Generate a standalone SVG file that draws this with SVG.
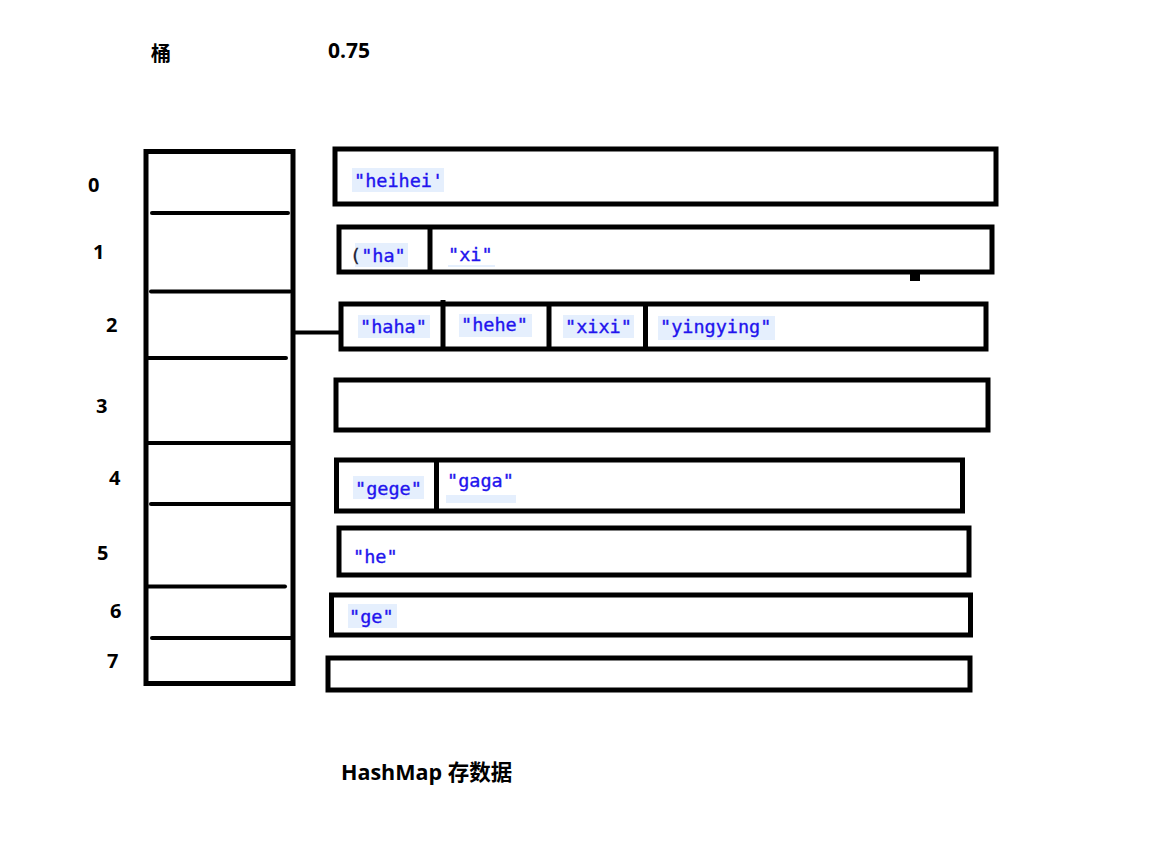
<svg xmlns="http://www.w3.org/2000/svg" width="1174" height="856" viewBox="0 0 1174 856">
<style>
.box{fill:none;stroke:#000;stroke-width:5}
.div{stroke:#000;stroke-width:4}
.sep{stroke:#000;stroke-width:4;stroke-linecap:round}
.lbl{font-family:"Open Sans","Noto Sans CJK SC",sans-serif;font-weight:bold;font-size:20px;fill:#000}
.code{font-family:"DejaVu Sans Mono","Liberation Mono",monospace;font-size:18.5px;fill:#2214ee;stroke:#2214ee;stroke-width:0.35}
.hl{fill:#e5effd}
</style>
<rect width="1174" height="856" fill="#fff"/>
<g id="titles">
<text class="lbl" x="151" y="61">桶</text>
<text class="lbl" x="328" y="58" style="font-size:21px">0.75</text>
<text class="lbl" x="341" y="780" style="font-size:21.5px">HashMap 存数据</text>
</g>
<g id="indices">
<text class="lbl" x="88" y="192">0</text>
<text class="lbl" x="93" y="259">1</text>
<text class="lbl" x="106" y="332">2</text>
<text class="lbl" x="96" y="413">3</text>
<text class="lbl" x="109" y="485">4</text>
<text class="lbl" x="97" y="560">5</text>
<text class="lbl" x="110" y="618">6</text>
<text class="lbl" x="107" y="668">7</text>
</g>
<g id="bucket-array">
<rect class="box" x="146" y="151.5" width="147" height="532"/>
<line class="sep" x1="152" y1="213" x2="288" y2="213"/>
<line class="sep" x1="151" y1="291.5" x2="290" y2="291.5"/>
<line class="sep" x1="148" y1="358" x2="286" y2="358"/>
<line class="div" x1="146" y1="443" x2="293" y2="443"/>
<line class="sep" x1="151" y1="504" x2="292" y2="504"/>
<line class="sep" x1="148" y1="586.5" x2="285" y2="586.5"/>
<line class="sep" x1="152" y1="638" x2="292" y2="638"/>
</g>
<g id="connectors">
<line class="div" x1="293" y1="332.5" x2="343" y2="332.5"/>
</g>
<g id="chain-0">
<rect class="box" x="335" y="149" width="661" height="55"/>
<rect class="hl" x="352" y="168" width="92" height="24"/>
<text class="code" x="354" y="187">"heihei'</text>
</g>
<g id="chain-1">
<rect class="box" x="339" y="227" width="653" height="45"/>
<line class="box" x1="430" y1="227" x2="430" y2="272"/>
<rect class="hl" x="355" y="243" width="53" height="24"/>
<text class="code" x="350" y="262"><tspan fill="#223" stroke="#223">(</tspan>"ha"</text>
<rect class="hl" x="448" y="265" width="47" height="2"/>
<text class="code" x="448" y="261">"xi"</text>
<rect x="910" y="273" width="10" height="8" fill="#000"/>
</g>
<g id="chain-2">
<rect class="box" x="341" y="304" width="645" height="45"/>
<line class="box" x1="443" y1="300" x2="443" y2="347"/>
<line class="box" x1="549" y1="305" x2="549" y2="349"/>
<line class="box" x1="645.5" y1="304" x2="645.5" y2="349"/>
<rect class="hl" x="358" y="315" width="72" height="23"/>
<text class="code" x="360" y="333">"haha"</text>
<rect class="hl" x="459" y="314" width="73" height="23"/>
<text class="code" x="461" y="331">"hehe"</text>
<rect class="hl" x="563" y="315" width="71" height="23"/>
<text class="code" x="565" y="333">"xixi"</text>
<rect class="hl" x="658" y="316" width="117" height="24"/>
<text class="code" x="660" y="333">"yingying"</text>
</g>
<g id="chain-3">
<rect class="box" x="336" y="380" width="652" height="50"/>
</g>
<g id="chain-4">
<rect class="box" x="336.5" y="460" width="626" height="51"/>
<line class="box" x1="436.5" y1="460" x2="436.5" y2="511"/>
<rect class="hl" x="353" y="476" width="71" height="23"/>
<text class="code" x="355" y="495">"gege"</text>
<rect class="hl" x="446" y="495" width="70" height="8"/>
<text class="code" x="447" y="487">"gaga"</text>
</g>
<g id="chain-5">
<rect class="box" x="339" y="528" width="630" height="47"/>
<text class="code" x="353" y="563">"he"</text>
</g>
<g id="chain-6">
<rect class="box" x="331.5" y="595" width="639" height="40"/>
<rect class="hl" x="348" y="604" width="49" height="24"/>
<text class="code" x="349" y="623">"ge"</text>
</g>
<g id="chain-7">
<rect class="box" x="328" y="658" width="642" height="32"/>
</g>
</svg>
